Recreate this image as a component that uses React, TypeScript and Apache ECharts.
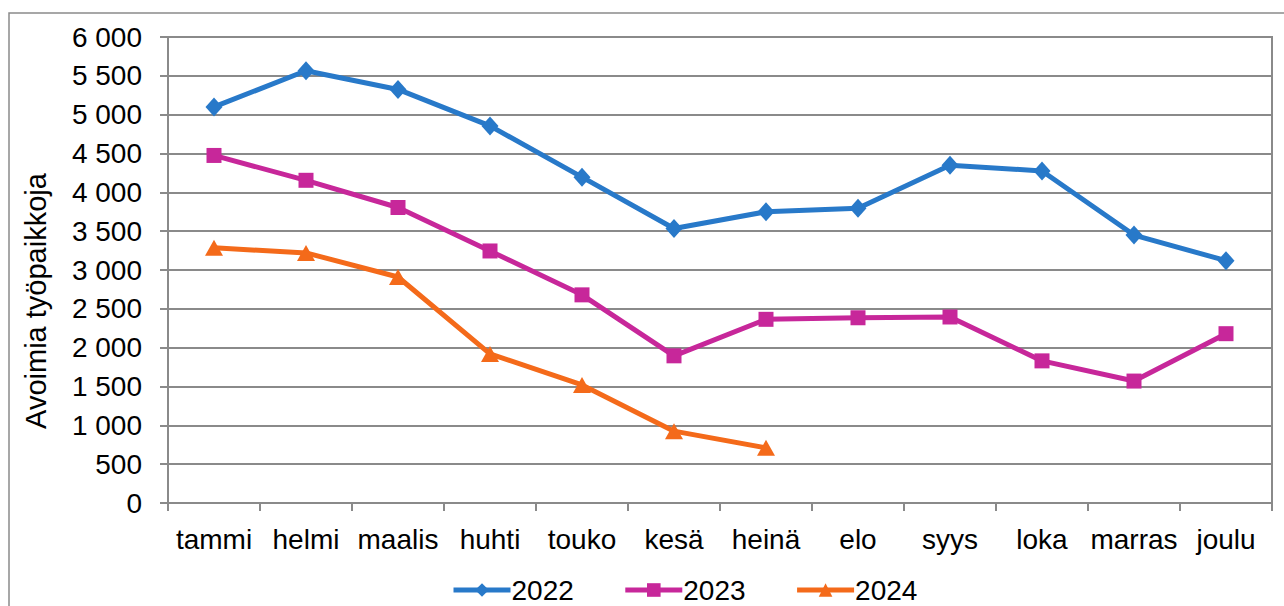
import React, { useEffect, useRef } from "react";
import * as echarts from "echarts";

const categories = ["tammi", "helmi", "maalis", "huhti", "touko", "kesä", "heinä", "elo", "syys", "loka", "marras", "joulu"];
const s2022 = [5100, 5565, 5325, 4855, 4195, 3535, 3750, 3795, 4350, 4275, 3450, 3120];
const s2023 = [4475, 4155, 3805, 3245, 2680, 1895, 2365, 2385, 2395, 1830, 1570, 2180];
const s2024 = [3285, 3220, 2910, 1920, 1520, 925, 710];
const seriesNames = ["2022", "2023", "2024"];
const yAxisTitle = "Avoimia työpaikkoja";

const FONT = "Liberation Sans, Arial, sans-serif";
const GRID = "#8a8a8a";

function fmt(v: number): string {
  const s = String(Math.round(v));
  return s.replace(/\B(?=(\d{3})+(?!\d))/g, " ");
}

export default function App() {
  const ref = useRef<HTMLDivElement>(null);
  useEffect(() => {
    if (!ref.current) return;
    const chart = echarts.init(ref.current, null, { renderer: "svg" });
    const mk = (name: string, data: number[], color: string, symbol: string, size: number | number[]) => ({
      name,
      type: "line",
      data,
      symbol,
      symbolSize: size,
      showSymbol: true,
      lineStyle: { color, width: 5 },
      itemStyle: { color },
      emphasis: { disabled: true },
    });
    chart.setOption({
      animation: false,
      backgroundColor: "#fff",
      textStyle: { fontFamily: FONT },
      grid: {
        left: 168,
        top: 37,
        right: 12,
        bottom: 103,
        show: true,
        borderColor: GRID,
        borderWidth: 2,
        containLabel: false,
      },
      graphic: [
        {
          type: "rect",
          shape: { x: 9, y: 13, width: 1400, height: 700 },
          style: { fill: "none", stroke: GRID, lineWidth: 1.5 },
          silent: true,
          z: -1,
        },
        {
          type: "text",
          x: 36,
          y: 301,
          rotation: Math.PI / 2,
          style: {
            text: yAxisTitle,
            fontSize: 29,
            fontFamily: FONT,
            fill: "#000",
            align: "center",
            verticalAlign: "middle",
          },
        },
      ],
      legend: {
        data: seriesNames,
        left: 451,
        top: 576,
        padding: 0,
        itemWidth: 57,
        itemHeight: 17,
        itemGap: 49,
        lineStyle: { width: 5 },
        textStyle: { fontSize: 28, color: "#000", fontFamily: FONT, padding: [0, 0, 0, -4] },
      },
      xAxis: {
        type: "category",
        data: categories,
        boundaryGap: true,
        axisLine: { show: true, lineStyle: { color: GRID, width: 2 } },
        axisTick: { show: true, alignWithLabel: false, length: 8, lineStyle: { color: GRID, width: 2 } },
        axisLabel: { fontSize: 28, color: "#000", fontFamily: FONT, margin: 22, interval: 0 },
        splitLine: { show: false },
      },
      yAxis: {
        type: "value",
        min: 0,
        max: 6000,
        interval: 500,
        axisLine: { show: true, lineStyle: { color: GRID, width: 2 } },
        axisTick: { show: true, length: 8, lineStyle: { color: GRID, width: 2 } },
        axisLabel: { fontSize: 28, color: "#000", fontFamily: FONT, margin: 26, formatter: (v: number) => fmt(v) },
        splitLine: { show: true, lineStyle: { color: GRID, width: 2 } },
      },
      series: [
        mk(seriesNames[0], s2022, "#2879C9", "diamond", [17, 19]),
        mk(seriesNames[1], s2023, "#C7279A", "rect", 15),
        mk(seriesNames[2], s2024, "#F46A1A", "triangle", [18, 16]),
      ],
    });
    return () => chart.dispose();
  }, []);
  return <div ref={ref} style={{ position: "absolute", left: 0, top: 0, width: 1284, height: 606 }} />;
}
